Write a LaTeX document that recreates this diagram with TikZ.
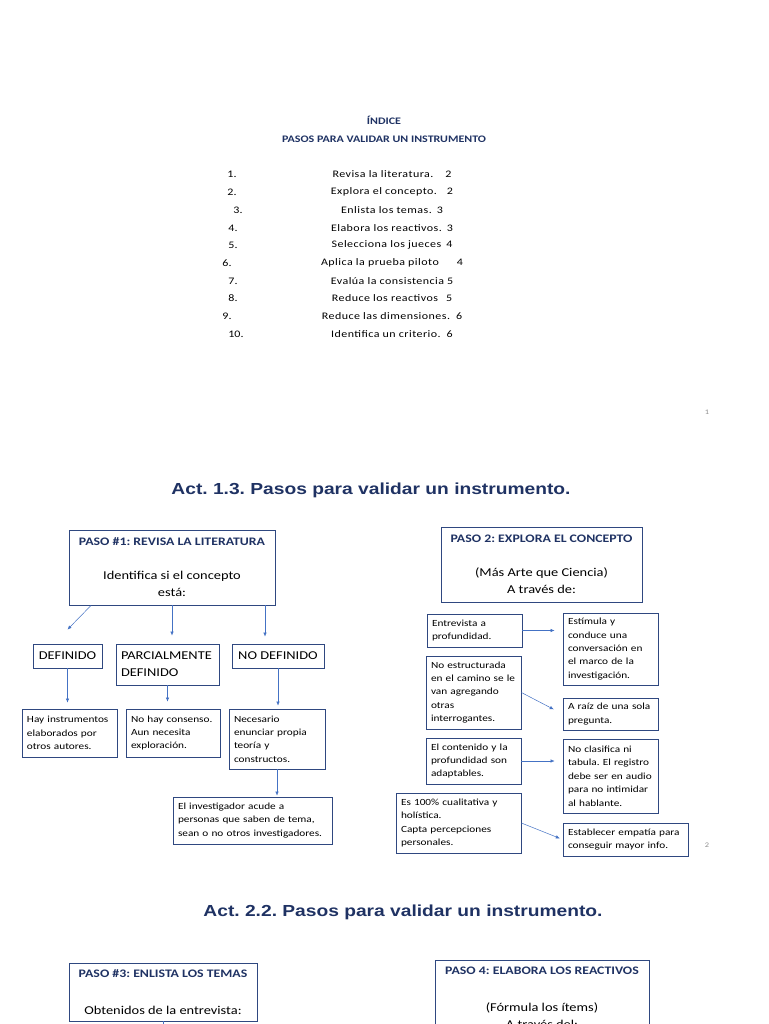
\documentclass[tikz,border=0pt]{standalone}
\usepackage{fontspec}
\setmainfont[FakeStretch=1.2]{Carlito}
\newfontfamily\arialfont[FakeStretch=1.2]{Liberation Sans}
\newfontfamily\idxfont[FakeStretch=1.2, LetterSpace=4.5]{Carlito}
\usetikzlibrary{
  arrows.meta,
  positioning
}
\definecolor{NavyTitle}{RGB}{31, 50, 99}
\definecolor{BoxBlue}{RGB}{47, 72, 128}
\definecolor{ArrowBlue}{RGB}{68, 114, 196}
\definecolor{PageGray}{RGB}{140, 140, 140}
\tikzset{
    pasobox/.style={draw=BoxBlue, line width=0.9pt, rectangle, inner sep=0pt, align=center,
        font=\fontsize{12}{17}\selectfont},
    levelbox/.style={draw=BoxBlue, line width=0.9pt, rectangle, inner sep=0pt,
        font=\fontsize{12}{17}\selectfont},
    notebox/.style={draw=BoxBlue, line width=0.8pt, rectangle, inner xsep=5pt, inner ysep=0pt,
        align=left, font=\fontsize{9.4}{13.4}\selectfont},
    actitle/.style={font=\arialfont\bfseries\fontsize{16}{20}\selectfont, text=NavyTitle},
    idxnum/.style={font=\fontsize{10}{12}\selectfont},
    idxitem/.style={font=\idxfont\fontsize{10}{12}\selectfont},
    pagenum/.style={font=\fontsize{7}{8}\selectfont, text=PageGray},
    link/.style={-{Latex[length=4pt,width=3.5pt]}, draw=ArrowBlue, line width=0.5pt}
}
\newcommand{\pasotitle}[1]{{\fontsize{11.5}{13}\selectfont\bfseries\textcolor{NavyTitle}{#1}}}

\begin{document}
\frenchspacing
\begin{tikzpicture}[x=1pt, y=-1pt]
    \useasboundingbox (0,0) rectangle (768,1024);
    \clip (0,0) rectangle (768,1024);

    % indice
    \node[font=\fontsize{10}{12}\selectfont\bfseries, text=NavyTitle] (indice) at (384,120) {ÍNDICE};
    \node[font=\fontsize{10}{12}\selectfont\bfseries, text=NavyTitle] (pasos) at (384,139) {PASOS PARA VALIDAR UN INSTRUMENTO};

    \node[idxnum] (n1) at (232,174) {1.};
    \node[idxitem] (i1) at (392,174) {Revisa la literatura.\hspace{12pt}2};
    \node[idxnum] (n2) at (232,192) {2.};
    \node[idxitem] (i2) at (392,192) {Explora el concepto.\hspace{10pt}2};
    \node[idxnum] (n3) at (238,210) {3.};
    \node[idxitem] (i3) at (392,210) {Enlista los temas.\hspace{5pt}3};
    \node[idxnum] (n4) at (233,228) {4.};
    \node[idxitem] (i4) at (392,228) {Elabora los reactivos.\hspace{5pt}3};
    \node[idxnum] (n5) at (233,245) {5.};
    \node[idxitem] (i5) at (392,245) {Selecciona los jueces\hspace{5pt}4};
    \node[idxnum] (n6) at (227,263) {6.};
    \node[idxitem] (i6) at (392,263) {Aplica la prueba piloto\hspace{18pt}4};
    \node[idxnum] (n7) at (233,281) {7.};
    \node[idxitem] (i7) at (392,281) {Evalúa la consistencia\hspace{3pt}5};
    \node[idxnum] (n8) at (233,298) {8.};
    \node[idxitem] (i8) at (392,298) {Reduce los reactivos\hspace{8pt}5};
    \node[idxnum] (n9) at (227,316) {9.};
    \node[idxitem] (i9) at (392,316) {Reduce las dimensiones.\hspace{6pt}6};
    \node[idxnum] (n10) at (236,334) {10.};
    \node[idxitem] (i10) at (392,334) {Identifica un criterio.\hspace{6pt}6};

    \node[pagenum] (pag1) at (707,412) {1};

    % act 1.3
    \node[actitle] (act13) at (371,490) {Act. 1.3. Pasos para validar un instrumento.};

    \node[pasobox, minimum width=206pt, minimum height=75pt] (paso1) at (172,567.5)
        {\pasotitle{PASO \#1: REVISA LA LITERATURA}\\[17pt] Identifica si el concepto\\ está:};

    \node[levelbox, minimum width=69pt, minimum height=24pt] (definido) at (67.5,656) {DEFINIDO};
    \node[levelbox, minimum width=103pt, minimum height=41pt, text width=93pt, align=left] (parcial) at (167.5,664.5)
        {PARCIALMENTE\\DEFINIDO};
    \node[levelbox, minimum width=92pt, minimum height=24pt] (nodef) at (278,656) {NO DEFINIDO};

    \node[notebox, minimum width=95pt, minimum height=48pt, text width=85pt] (hay) at (69.5,733)
        {Hay instrumentos\\elaborados por\\otros autores.};
    \node[notebox, minimum width=94pt, minimum height=48pt, text width=84pt] (nohay) at (173,733)
        {No hay consenso.\\Aun necesita\\exploración.};
    \node[notebox, minimum width=96pt, minimum height=60pt, text width=86pt] (necesario) at (277,739)
        {Necesario\\enunciar propia\\teoría y\\constructos.};
    \node[notebox, minimum width=159pt, minimum height=47pt, text width=149pt] (investigador) at (252.5,820.5)
        {El investigador acude a\\personas que saben de tema,\\sean o no otros investigadores.};

    \draw[link] ([xshift=-81pt]paso1.south) -- ([yshift=14pt]definido.north);
    \draw[link] (paso1.south) -- ([yshift=8pt]parcial.north -| paso1.south);
    \draw[link] ([xshift=93pt]paso1.south) -- ([xshift=-13pt,yshift=7pt]nodef.north);
    \draw[link] (definido.south) -- ([yshift=6pt]hay.north -| definido.south);
    \draw[link] (parcial.south) -- ([yshift=7pt]nohay.north -| parcial.south);
    \draw[link] (nodef.south) -- ([yshift=3pt]necesario.north -| nodef.south);
    \draw[link] (necesario.south) -- ([yshift=1pt]investigador.north -| necesario.south);

    \node[pasobox, minimum width=201pt, minimum height=75pt] (paso2) at (541.5,564.5)
        {\pasotitle{PASO 2: EXPLORA EL CONCEPTO}\\[17pt] (Más Arte que Ciencia)\\ A través de:};

    \node[notebox, minimum width=95pt, minimum height=33pt, text width=85pt] (entrevista) at (474.5,630.5)
        {Entrevista a\\profundidad.};
    \node[notebox, minimum width=95pt, minimum height=73pt, text width=85pt] (noestr) at (473.5,692.5)
        {No estructurada\\en el camino se le\\van agregando\\otras\\interrogantes.};
    \node[notebox, minimum width=95pt, minimum height=46pt, text width=85pt] (contenido) at (473.5,761)
        {El contenido y la\\profundidad son\\adaptables.};
    \node[notebox, minimum width=125pt, minimum height=60pt, text width=115pt] (cualit) at (458.5,823)
        {Es 100\% cualitativa y\\holística.\\Capta percepciones\\personales.};

    \node[notebox, minimum width=95pt, minimum height=72pt, text width=85pt] (estimula) at (610.5,649)
        {Estímula y\\conduce una\\conversación en\\el marco de la\\investigación.};
    \node[notebox, minimum width=95pt, minimum height=32pt, text width=85pt] (raiz) at (610.5,714)
        {A raíz de una sola\\pregunta.};
    \node[notebox, minimum width=95pt, minimum height=74pt, text width=85pt] (noclas) at (610.5,776)
        {No clasifica ni\\tabula. El registro\\debe ser en audio\\para no intimidar\\al hablante.};
    \node[notebox, minimum width=125pt, minimum height=33pt, text width=115pt] (empatia) at (625.5,839.5)
        {Establecer empatía para\\conseguir mayor info.};

    \draw[link, shorten >=8pt] (entrevista.east) -- (entrevista.east -| estimula.west);
    \draw[link, shorten >=10pt] (noestr.east) -- (raiz.west);
    \draw[link, shorten >=8pt] (contenido.east) -- (contenido.east -| noclas.west);
    \draw[link, shorten >=3pt] (cualit.east) -- (empatia.west);

    \node[pagenum] (pag2) at (707,845) {2};

    % act 2.2
    \node[actitle] (act22) at (403,912) {Act. 2.2. Pasos para validar un instrumento.};

    \node[pasobox, minimum width=188pt, minimum height=58pt] (paso3) at (163,992)
        {\pasotitle{PASO \#3: ENLISTA LOS TEMAS}\\[20pt] Obtenidos de la entrevista:};
    \coordinate (paso3out) at (163,1030);
    \draw[draw=ArrowBlue, line width=0.5pt] (paso3.south) -- (paso3out);

    \node[pasobox, minimum width=214pt, minimum height=75pt] (paso4) at (542,997.5)
        {\pasotitle{PASO 4: ELABORA LOS REACTIVOS}\\[20pt] (Fórmula los ítems)\\ A través del:};
\end{tikzpicture}
\end{document}
